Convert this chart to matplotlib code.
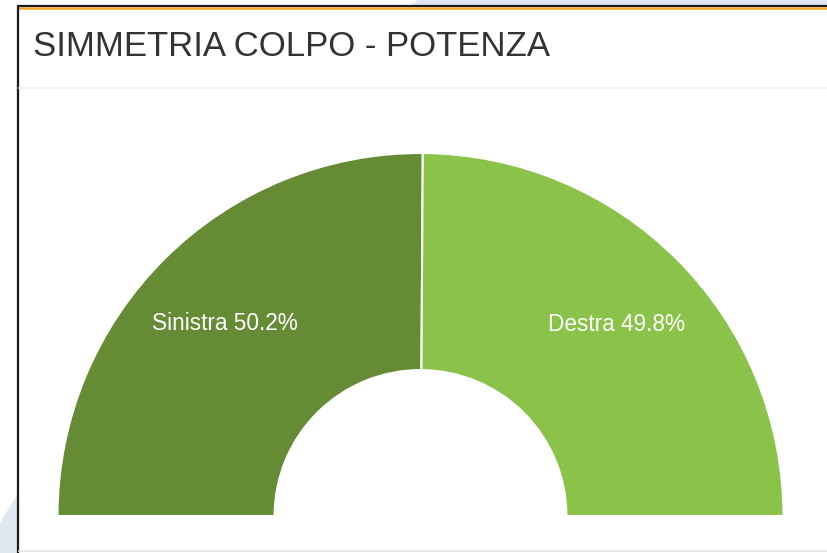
import matplotlib.pyplot as plt
from matplotlib.patches import Rectangle, Polygon

# data
labels = ["Sinistra", "Destra"]
values = [50.2, 49.8]
colors = ["#658b35", "#8bc34a"]
title = "SIMMETRIA COLPO - POTENZA"

plt.rcParams['font.family'] = ['Liberation Sans', 'DejaVu Sans']

W, H = 828, 553
fig = plt.figure(figsize=(W / 100, H / 100), dpi=100)
fig.patch.set_facecolor("white")

# background / card frame in pixel coordinates
bg = fig.add_axes([0, 0, 1, 1])
bg.set_xlim(0, W)
bg.set_ylim(H, 0)
bg.axis('off')
blue = "#dfe7f1"
bg.add_patch(Polygon([(410, 5), (418, 0), (W, 0), (W, 5)], color=blue, lw=0))
bg.add_patch(Polygon([(0, 523), (17, 495), (17, H), (0, H)], color=blue, lw=0))
bg.add_patch(Rectangle((18, 5), W - 18, 546, color="white", lw=0))
bg.plot([18, W], [5.5, 5.5], color="#1a1a1a", lw=1.6, solid_capstyle='butt')
bg.plot([18, W], [8.2, 8.2], color="#f5a623", lw=1.8, solid_capstyle='butt')
bg.plot([18, 18], [5, H], color="#1a1a1a", lw=1.6, solid_capstyle='butt')
bg.plot([19, W], [87.5, 87.5], color="#efefef", lw=1.2)
bg.plot([19, W], [551, 551], color="#e3e3e3", lw=1.2)
bg.text(33, 56, title, fontsize=25, color="#333333", ha='left', va='baseline')

# half donut
cx, cy, r = 420.5, 516, 363
ax = fig.add_axes([(cx - r) / W, (H - cy - r) / H, 2 * r / W, 2 * r / H])
ax.axis('off')
ax.set_aspect('equal')
vals = values + [sum(values)]
lbls = [f"{n} {v}%" for n, v in zip(labels, values)] + [""]
wedges, texts = ax.pie(vals, labels=lbls, colors=colors + ["none"],
                       startangle=180, counterclock=False, radius=1,
                       labeldistance=0.763,
                       wedgeprops=dict(width=0.598, edgecolor="white", linewidth=1.5))
wedges[-1].set_visible(False)
for t in texts:
    t.set_ha('center')
    t.set_va('center')
    t.set_color('white')
    t.set_fontsize(16.3)
    x, y = t.get_position()
    t.set_position((x, y - 0.01))
ax.set_xlim(-1, 1)
ax.set_ylim(-1, 1)

fig.savefig("out.png", dpi=100)
